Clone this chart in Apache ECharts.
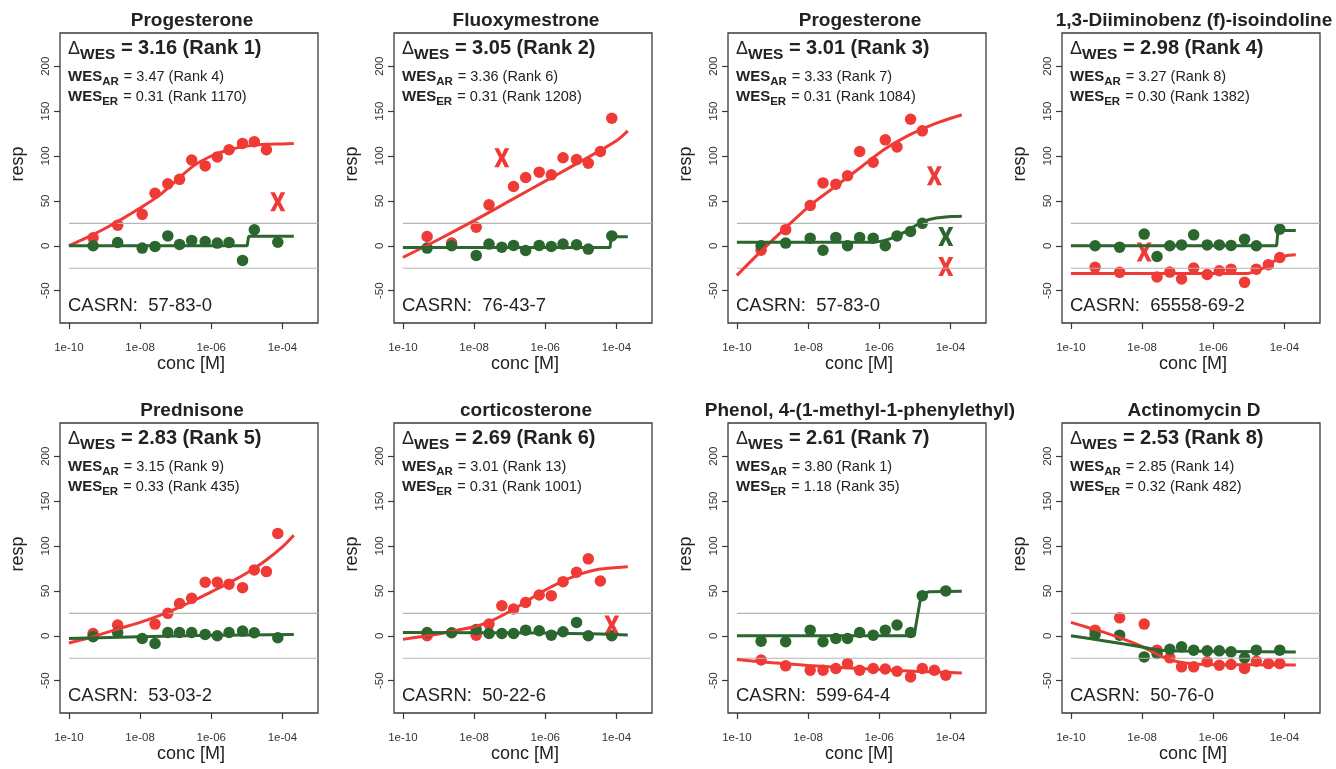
<!DOCTYPE html>
<html>
<head>
<meta charset="utf-8">
<script src="https://cdn.jsdelivr.net/npm/echarts@6/dist/echarts.min.js"></script>
<style>
  html, body { margin: 0; padding: 0; background: #ffffff; }
  #chart { width: 1336px; height: 769px; }
</style>
</head>
<body>
<div id="chart"></div>
<script>
// ---- data -------------------------------------------------------------
// log10 of the tested concentrations [M]
const logConc = [-9.32, -8.63, -7.94, -7.58, -7.22, -6.89, -6.55, -6.17, -5.83, -5.50, -5.12, -4.79, -4.45, -4.13];

const compounds = ['Progesterone', 'Fluoxymestrone', 'Progesterone', '1,3-Diiminobenz (f)-isoindoline',
                   'Prednisone', 'corticosterone', 'Phenol, 4-(1-methyl-1-phenylethyl)', 'Actinomycin D'];
const casrn     = ['57-83-0', '76-43-7', '57-83-0', '65558-69-2', '53-03-2', '50-22-6', '599-64-4', '50-76-0'];
const deltaWes  = ['3.16', '3.05', '3.01', '2.98', '2.83', '2.69', '2.61', '2.53'];
const deltaRank = [1, 2, 3, 4, 5, 6, 7, 8];
const wesAR     = ['3.47', '3.36', '3.33', '3.27', '3.15', '3.01', '3.80', '2.85'];
const rankAR    = [4, 6, 7, 8, 9, 13, 1, 14];
const wesER     = ['0.31', '0.31', '0.31', '0.30', '0.33', '0.31', '1.18', '0.32'];
const rankER    = [1170, 1208, 1084, 1382, 435, 1001, 35, 482];

const xTicks = [-10, -8, -6, -4];
const yTicks = [-50, 0, 50, 100, 150, 200];
const cutoff = 25;

// AR (red) and ER (green) responses, one value per concentration (null = not shown)
const arResp1 = [9, 23, 35, 58.5, 69, 74, 95.5, 89, 99, 107, 114, 116, 107, null];
const erResp1 = [0, 3.7, -2.6, -0.7, 11, 1.5, 6, 4.8, 3, 3.7, -16.3, 17.8, null, 4];
const arResp2 = [10.4, 3, 20.7, 45.6, null, 66, 76, 82, 79, 98, 96, 92, 105, 142];
const erResp2 = [-2.6, 0, -10.7, 1.9, -1.5, 0.4, -5.2, 0.4, -0.7, 1.9, 1.1, -3.7, null, 11];
const arResp3 = [-5, 18, 45, 70, 68.5, 78, 105, 93, 118, 110, 141, 128, null, null];
const erResp3 = [0, 3, 8.5, -5, 9.3, 0, 9.3, 8.5, 0, 11, 16, 25, null, null];
const arResp4 = [-24, -29.6, null, -34.8, -29.3, -37, -24.8, -32, -27.8, -26, -40.7, -26, -21, -13];
const erResp4 = [0, -1.5, 13, -11.9, 0, 1, 12.2, 1, 1, 0.4, 7.4, 0, null, 18.5];
const arResp5 = [2.6, 11.9, null, 13, 25, 36, 41.7, 59.6, 59.6, 57.4, 53.6, 73.4, 71.5, 114];
const erResp5 = [-1, 3.7, -3, -8.6, 3.7, 3.7, 3.7, 1.5, 0, 3.7, 5.2, 3.4, null, -2.2];
const arResp6 = [0, null, 0.7, 13, 33.5, 29.8, 37.2, 45.4, 44.7, 60.3, 70.8, 85.7, 61, null];
const erResp6 = [3.7, 3.4, 7, 2.6, 2.6, 2.6, 6.3, 5.6, 0.7, 4.5, 14.9, 0, null, 0];
const arResp7 = [-27, -33.5, -38.4, -38.4, -36.5, -31, -38.4, -36.5, -37, -39.5, -45.8, -36.5, -38.4, -44];
const erResp7 = [-6, -6.7, 6.3, -6.7, -3, -3, 3.7, 0.7, 6.3, 12, 3.7, 44.7, null, 50];
const arResp8 = [6.3, 20, 13, -16, -24.6, -34.6, -34.6, -29, -32.8, -32, -36.5, -28.3, -31, -31];
const erResp8 = [1.5, 0.7, -23.5, -19.7, -15, -12.3, -16, -16.8, -16.8, -17.9, -24.6, -16, null, -16];

// excluded responses: [concentration index, response]
const arOut1 = [[13, 49]];
const arOut2 = [[4, 98]];
const arOut3 = [[12, 78], [13, -23]];
const erOut3 = [[13, 10.3]];
const arOut4 = [[2, -7]];
const arOut6 = [[13, 12]];

// fitted concentration-response curves: [log10 conc, response]
const arFit1 = [[-10, 0], [-9.5, 9], [-9, 19], [-8.5, 30], [-8, 42], [-7.5, 55], [-7, 72], [-6.5, 89], [-6, 100], [-5.5, 107], [-5, 111], [-4.5, 113], [-4, 113.5], [-3.68, 114]];
const erFit1 = [[-10, 0], [-4.99, 0], [-4.95, 10.5], [-3.68, 10.5]];
const arFit2 = [[-10, -13], [-9, 7], [-8, 28], [-7, 50], [-6, 72], [-5, 94], [-4, 117], [-3.68, 128]];
const erFit2 = [[-10, -2], [-4.18, -2], [-4.14, 10], [-3.68, 10]];
const arFit3 = [[-10, -33], [-9.32, -6], [-8.63, 20], [-7.94, 45], [-7.2, 67], [-6.5, 88], [-5.83, 108], [-5.12, 124], [-4.5, 135], [-4, 142], [-3.68, 146]];
const erFit3 = [[-10, 4], [-6.2, 4], [-5.9, 5.5], [-5.6, 9], [-5.3, 15], [-5, 22], [-4.7, 28], [-4.4, 31], [-4, 32.5], [-3.68, 33]];
const arFit4 = [[-10, -31], [-5.1, -31], [-4.85, -29], [-4.6, -25], [-4.4, -20], [-4.2, -15], [-4, -11.5], [-3.68, -10]];
const erFit4 = [[-10, 0], [-4.22, 0], [-4.18, 17], [-3.68, 17]];
const arFit5 = [[-10, -8], [-9.5, -3], [-9, 3], [-8.5, 9], [-8, 15], [-7.5, 22], [-7, 30], [-6.5, 39], [-6, 49], [-5.5, 59], [-5, 70], [-4.5, 83], [-4, 99], [-3.68, 112]];
const erFit5 = [[-10, -3], [-8, -1], [-6, 0.5], [-3.68, 1.5]];
const arFit6 = [[-10, -4], [-9.5, -1], [-9, 2], [-8.5, 6], [-8, 10], [-7.5, 17], [-7, 27], [-6.5, 39], [-6, 51], [-5.5, 61], [-5, 69], [-4.5, 74], [-4, 76], [-3.68, 77]];
const erFit6 = [[-10, 3.7], [-6, 3], [-3.68, 1]];
const arFit7 = [[-10, -26.5], [-9, -30], [-8, -33], [-7, -35.5], [-6, -37.5], [-5, -39.5], [-4, -41], [-3.68, -41.5]];
const erFit7 = [[-10, 0], [-5.02, 0], [-4.82, 46], [-4.6, 49], [-3.68, 49.5]];
const arFit8 = [[-10, 15], [-9.5, 9], [-9, 3], [-8.5, -4], [-8, -12], [-7.5, -22], [-7, -29], [-6.5, -31.5], [-6, -32], [-3.68, -32.5]];
const erFit8 = [[-10, 0], [-9, -6], [-8, -12.5], [-7.5, -16], [-7, -17], [-3.68, -18]];

const erFitSmooth = [false, false, true, false, true, true, false, true];

// ---- grouping ---------------------------------------------------------
const arResp = [arResp1, arResp2, arResp3, arResp4, arResp5, arResp6, arResp7, arResp8];
const erResp = [erResp1, erResp2, erResp3, erResp4, erResp5, erResp6, erResp7, erResp8];
const arOut  = [arOut1, arOut2, arOut3, arOut4, [], arOut6, [], []];
const erOut  = [[], [], erOut3, [], [], [], [], []];
const arFit  = [arFit1, arFit2, arFit3, arFit4, arFit5, arFit6, arFit7, arFit8];
const erFit  = [erFit1, erFit2, erFit3, erFit4, erFit5, erFit6, erFit7, erFit8];

// ---- styling / layout -------------------------------------------------
const RED = '#ef3a35';
const GREEN = '#2a662e';
const INK = '#222222';
const AXIS = '#3a3a3a';
const FONT = '"Liberation Sans", Arial, sans-serif';
const colLeft = [60, 394, 728, 1062];
const rowTop = [33, 423];
const PW = 258, PH = 290;
const X_MIN = -10.25, X_MAX = -3.0, Y_MIN = -86, Y_MAX = 237;
// thick "x" used for excluded responses
const CROSS = 'path://M0,0L4.6,0L7.5,6.2L10.4,0L15,0L10.1,9.5L15,19L10.4,19L7.5,12.8L4.6,19L0,19L4.9,9.5Z';

const meas = document.createElement('canvas').getContext('2d');
function fontStr(size, bold) { return (bold ? 'bold ' : '') + size + 'px ' + FONT; }
function textW(t, size, bold) { meas.font = fontStr(size, bold); return meas.measureText(t).width; }

const graphics = [];
function addText(x, y, text, size, bold, align, rotation) {
  graphics.push({
    type: 'text', x: x, y: y, rotation: rotation || 0, silent: true,
    style: {
      text: text, font: fontStr(size, bold), fill: INK,
      align: align, verticalAlign: 'middle', textAlign: align, textVerticalAlign: 'middle'
    }
  });
}
// a line of text made of runs sharing one baseline (dy lowers subscripts)
function addRuns(x, baseline, runs) {
  let cx = x;
  runs.forEach(r => {
    addText(cx, baseline + (r.dy || 0) - 0.35 * r.size, r.t, r.size, r.bold, 'left');
    cx += textW(r.t, r.size, r.bold) + (r.gap || 0);
  });
}

function pts(vals) {
  const out = [];
  vals.forEach((v, i) => { if (v !== null) out.push([logConc[i], v]); });
  return out;
}
function outPts(list) { return list.map(p => [logConc[p[0]], p[1]]); }

const grids = [], xAxes = [], yAxes = [], series = [];

for (let i = 0; i < 8; i++) {
  const left = colLeft[i % 4], top = rowTop[Math.floor(i / 4)];
  grids.push({ left: left, top: top, width: PW, height: PH, show: true,
               borderColor: AXIS, borderWidth: 1.3, backgroundColor: 'transparent' });
  xAxes.push({
    type: 'value', gridIndex: i, min: X_MIN, max: X_MAX, position: 'bottom',
    axisLine: { show: false, onZero: false }, splitLine: { show: false },
    axisTick: { show: true, length: 6, customValues: xTicks, lineStyle: { color: AXIS, width: 1.2 } },
    axisLabel: { customValues: xTicks, margin: 19, fontSize: 11.5, color: '#333', fontFamily: FONT,
                 formatter: v => '1e-' + String(-v).padStart(2, '0') }
  });
  yAxes.push({
    type: 'value', gridIndex: i, min: Y_MIN, max: Y_MAX, position: 'left',
    axisLine: { show: false, onZero: false }, splitLine: { show: false },
    axisTick: { show: true, length: 6, customValues: yTicks, lineStyle: { color: AXIS, width: 1.2 } },
    axisLabel: { customValues: yTicks, rotate: 90, margin: 8, fontSize: 11.5, color: '#333', fontFamily: FONT }
  });

  const common = { xAxisIndex: i, yAxisIndex: i, silent: true, animation: false };
  // activity cutoff lines
  [cutoff, -cutoff].forEach(c => series.push(Object.assign({
    type: 'line', data: [[-10, c], [X_MAX, c]], showSymbol: false,
    lineStyle: { color: '#b4b4b4', width: 1.2 }
  }, common)));
  series.push(Object.assign({ type: 'scatter', data: pts(arResp[i]), symbol: 'circle', symbolSize: 11.5,
                              itemStyle: { color: RED, opacity: 1 } }, common));
  series.push(Object.assign({ type: 'scatter', data: pts(erResp[i]), symbol: 'circle', symbolSize: 11.5,
                              itemStyle: { color: GREEN, opacity: 1 } }, common));
  series.push(Object.assign({ type: 'line', data: arFit[i], showSymbol: false, smooth: 0.3,
                              lineStyle: { color: RED, width: 3 } }, common));
  series.push(Object.assign({ type: 'line', data: erFit[i], showSymbol: false,
                              smooth: erFitSmooth[i] ? 0.3 : false,
                              lineStyle: { color: GREEN, width: 3 } }, common));
  if (arOut[i].length) series.push(Object.assign({ type: 'scatter', data: outPts(arOut[i]), symbol: CROSS,
                              symbolSize: [15, 19], symbolKeepAspect: false, itemStyle: { color: RED, opacity: 1 } }, common));
  if (erOut[i].length) series.push(Object.assign({ type: 'scatter', data: outPts(erOut[i]), symbol: CROSS,
                              symbolSize: [15, 19], symbolKeepAspect: false, itemStyle: { color: GREEN, opacity: 1 } }, common));

  // panel texts
  addText(left + 132, top - 12, compounds[i], 19, true, 'center');
  addRuns(left + 8, top + 22, [
    { t: '\u0394', size: 18, bold: false },
    { t: 'WES', size: 15.5, bold: true, dy: 5 },
    { t: ' = ' + deltaWes[i] + ' (Rank ' + deltaRank[i] + ')', size: 20, bold: true }
  ]);
  addRuns(left + 8, top + 49, [
    { t: 'WES', size: 15, bold: true },
    { t: 'AR', size: 11.5, bold: true, dy: 4, gap: 1 },
    { t: ' = ' + wesAR[i] + ' (Rank ' + rankAR[i] + ')', size: 14.5, bold: false }
  ]);
  addRuns(left + 8, top + 69, [
    { t: 'WES', size: 15, bold: true },
    { t: 'ER', size: 11.5, bold: true, dy: 4, gap: 1 },
    { t: ' = ' + wesER[i] + ' (Rank ' + rankER[i] + ')', size: 14.5, bold: false }
  ]);
  addRuns(left + 8, top + 279, [{ t: 'CASRN:  ' + casrn[i], size: 18.5, bold: false }]);
  addText(left - 42, top + 131, 'resp', 18, false, 'center', Math.PI / 2);
  addText(left + 131, top + 331, 'conc [M]', 18, false, 'center');
}

const chart = echarts.init(document.getElementById('chart'), null, { renderer: 'canvas' });
chart.setOption({
  animation: false,
  backgroundColor: '#ffffff',
  grid: grids, xAxis: xAxes, yAxis: yAxes, series: series,
  graphic: { elements: graphics }
});
</script>
</body>
</html>
